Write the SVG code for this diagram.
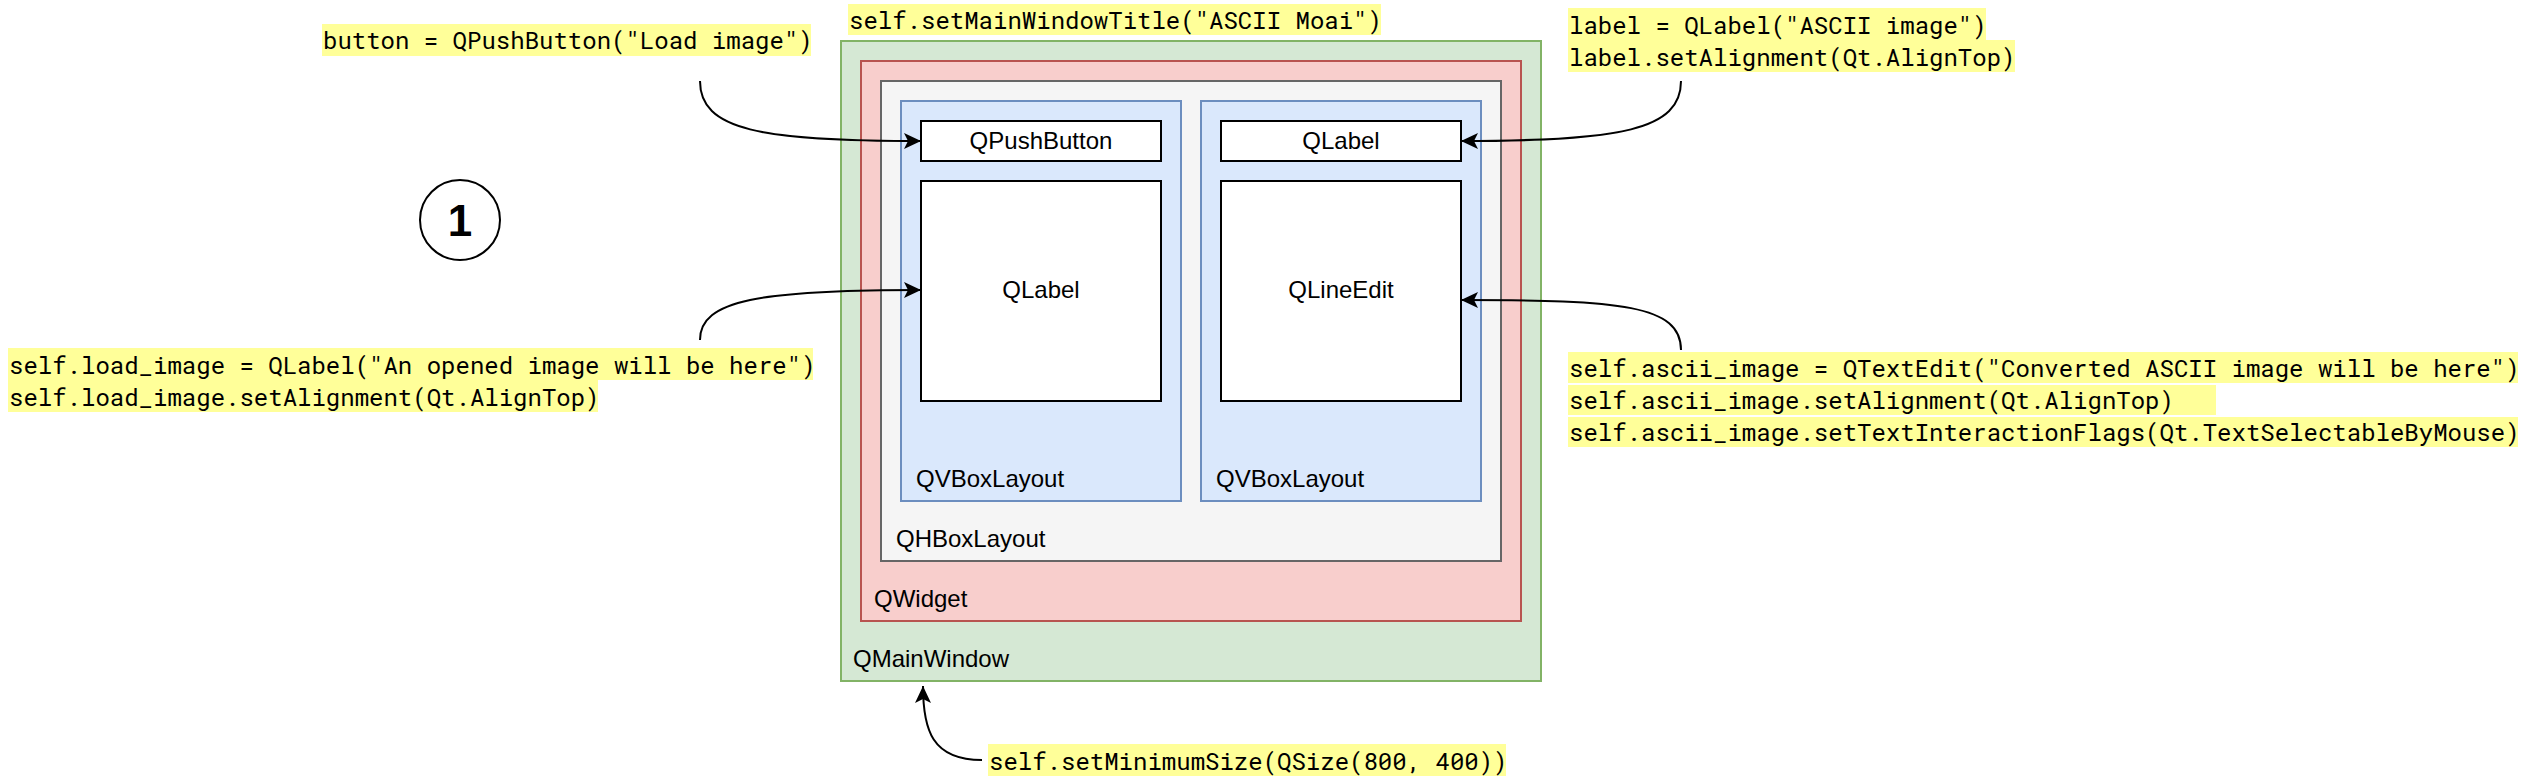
<svg xmlns="http://www.w3.org/2000/svg" width="2522" height="782" viewBox="0 0 2522 782">
<style>
.box{stroke-width:2}
.w{fill:#ffffff;stroke:#000000;stroke-width:2}
.t{font-family:"Liberation Sans",Arial,Helvetica,sans-serif;font-size:24px;fill:#000000}
.c{text-anchor:middle}
.code{font-family:"Roboto Mono","DejaVu Sans Mono","Liberation Mono",monospace;font-size:24px;fill:#000000;white-space:pre}
.hl{fill:#ffff99}
.edge{fill:none;stroke:#000000;stroke-width:2}
</style>
<defs>
<marker id="arr" markerUnits="userSpaceOnUse" markerWidth="18" markerHeight="18" refX="17" refY="8" orient="auto" viewBox="0 0 18 17">
<path d="M0,0 L17,8 L0,16 L4,8 Z" fill="#000000"/>
</marker>
</defs>
<rect width="2522" height="782" fill="#ffffff"/>

<g id="qmainwindow">
<rect class="box" x="841" y="41" width="700" height="640" fill="#d5e8d4" stroke="#82b366"/>
<text class="t" x="853" y="667">QMainWindow</text>
</g>
<g id="qwidget">
<rect class="box" x="861" y="61" width="660" height="560" fill="#f8cecc" stroke="#b85450"/>
<text class="t" x="874" y="607">QWidget</text>
</g>
<g id="qhboxlayout">
<rect class="box" x="881" y="81" width="620" height="480" fill="#f5f5f5" stroke="#666666"/>
<text class="t" x="896" y="547">QHBoxLayout</text>
</g>
<g id="qvboxlayout-left">
<rect class="box" x="901" y="101" width="280" height="400" fill="#dae8fc" stroke="#6c8ebf"/>
<text class="t" x="916" y="487">QVBoxLayout</text>
</g>
<g id="qvboxlayout-right">
<rect class="box" x="1201" y="101" width="280" height="400" fill="#dae8fc" stroke="#6c8ebf"/>
<text class="t" x="1216" y="487">QVBoxLayout</text>
</g>
<g id="qpushbutton">
<rect class="w" x="921" y="121" width="240" height="40"/>
<text class="t c" x="1041" y="149">QPushButton</text>
</g>
<g id="qlabel-left">
<rect class="w" x="921" y="181" width="240" height="220"/>
<text class="t c" x="1041" y="298">QLabel</text>
</g>
<g id="qlabel-right">
<rect class="w" x="1221" y="121" width="240" height="40"/>
<text class="t c" x="1341" y="149">QLabel</text>
</g>
<g id="qlineedit">
<rect class="w" x="1221" y="181" width="240" height="220"/>
<text class="t c" x="1341" y="298">QLineEdit</text>
</g>

<g id="step-marker">
<circle cx="460" cy="220" r="40" fill="#ffffff" stroke="#000000" stroke-width="2"/>
<text x="460" y="236" text-anchor="middle" font-family="'Liberation Sans',Arial,sans-serif" font-size="44" font-weight="bold">1</text>
</g>

<g id="note-button">
<rect class="hl" x="322" y="24" width="489" height="32"/>
<text class="code" x="323" y="49">button = QPushButton("Load image")</text>
</g>
<g id="note-title">
<rect class="hl" x="848" y="4" width="533" height="31"/>
<text class="code" x="849" y="29">self.setMainWindowTitle("ASCII Moai")</text>
</g>
<g id="note-label">
<rect class="hl" x="1568" y="8" width="418" height="32"/>
<rect class="hl" x="1568" y="40" width="447" height="32"/>
<text class="code" x="1569" y="34">label = QLabel("ASCII image")</text>
<text class="code" x="1569" y="66">label.setAlignment(Qt.AlignTop)</text>
</g>
<g id="note-load-image">
<rect class="hl" x="8" y="348" width="805" height="32"/>
<rect class="hl" x="8" y="380" width="590" height="32"/>
<text class="code" x="9" y="374">self.load_image = QLabel("An opened image will be here")</text>
<text class="code" x="9" y="406">self.load_image.setAlignment(Qt.AlignTop)</text>
</g>
<g id="note-ascii-image">
<rect class="hl" x="1568" y="352" width="950" height="31"/>
<rect class="hl" x="1568" y="385" width="648" height="30"/>
<rect class="hl" x="1568" y="417" width="950" height="30"/>
<text class="code" x="1569" y="377">self.ascii_image = QTextEdit("Converted ASCII image will be here")</text>
<text class="code" x="1569" y="409">self.ascii_image.setAlignment(Qt.AlignTop)</text>
<text class="code" x="1569" y="441">self.ascii_image.setTextInteractionFlags(Qt.TextSelectableByMouse)</text>
</g>
<g id="note-minsize">
<rect class="hl" x="988" y="744" width="518" height="32"/>
<text class="code" x="989" y="770">self.setMinimumSize(QSize(800, 400))</text>
</g>

<g id="connectors">
<path class="edge" d="M700,81 C700,130 760,141 921,141" marker-end="url(#arr)"/>
<path class="edge" d="M700,340 C700,300 760,290 921,290" marker-end="url(#arr)"/>
<path class="edge" d="M1681,81 C1681,130 1621,141 1461,141" marker-end="url(#arr)"/>
<path class="edge" d="M1681,350 C1681,305 1621,300 1461,300" marker-end="url(#arr)"/>
<path class="edge" d="M982,760 C932,760 923,730 923,686" marker-end="url(#arr)"/>
</g>
</svg>
